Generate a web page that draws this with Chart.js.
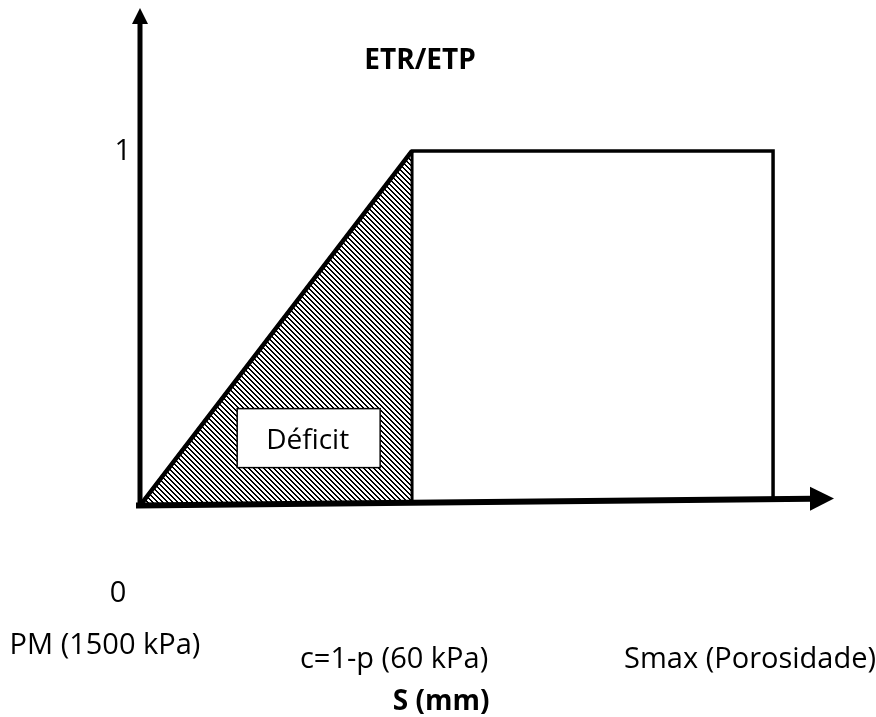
<!DOCTYPE html>
<html>
<head>
<meta charset="utf-8">
<script src="https://cdn.jsdelivr.net/npm/chart.js@4.4.1/dist/chart.umd.min.js"></script>
<style>
  html, body { margin: 0; padding: 0; background: #fff; }
  #wrap { width: 876px; height: 717px; }
</style>
</head>
<body>
<div id="wrap"><canvas id="myChart"></canvas></div>
<script>
// storage S, in units of the critical point c
const sPoints = [0, 1, 2.327];
const sLabels = ['PM (1500 kPa)', 'c=1-p (60 kPa)', 'Smax (Porosidade)'];
// ETR/ETP at each storage point
const ratioValues = [0, 1, 1];
const yTickValue = 1;

const xMax = 2.551;
const yMax = 1.403;

const FONT = '"Open Sans", "Noto Sans", sans-serif';

// crisp "\" hatch, one tile of 5x5 pixels
const makeHatch = () => {
    const n = 5;
    const c = document.createElement('canvas');
    c.width = n;
    c.height = n;
    const g = c.getContext('2d');
    g.fillStyle = '#000';
    for (let i = 0; i < n; i++) {
        g.fillRect(i, i, 1, 1);
        g.fillRect((i + 1) % n, i, 1, 1);
    }
    return c;
};

const ctx = document.getElementById('myChart').getContext('2d');
const hatch = ctx.createPattern(makeHatch(), 'repeat');

const curve = sPoints.map((s, i) => ({ x: s, y: ratioValues[i] }));
curve.push({ x: sPoints[2], y: 0 });
const deficit = curve.slice(0, 2);
const cLine = [{ x: sPoints[1], y: ratioValues[1] }, { x: sPoints[1], y: 0 }];

// x axis rises a little towards the arrow
const TILT = 7;

const overlay = {
    id: 'overlay',
    beforeDatasetsDraw(chart) {
        const { ctx, chartArea: a, scales: { y } } = chart;
        const y0 = y.getPixelForValue(0);
        ctx.save();
        ctx.beginPath();
        ctx.moveTo(a.left - 10, 0);
        ctx.lineTo(a.right + 10, 0);
        ctx.lineTo(a.right + 10, y0 - TILT);
        ctx.lineTo(a.left - 10, y0 + TILT * 10 / (a.right - a.left));
        ctx.closePath();
        ctx.clip();
    },
    afterDatasetsDraw(chart) {
        const { ctx, chartArea: a, scales: { x, y } } = chart;
        ctx.restore();
        const x0 = x.getPixelForValue(0);
        const y0 = y.getPixelForValue(0);
        const baseAt = (px) => y0 - TILT * (px - a.left) / (a.right - a.left);

        ctx.save();
        ctx.fillStyle = '#000';
        ctx.strokeStyle = '#000';

        // y axis with arrow
        ctx.lineWidth = 5;
        ctx.beginPath();
        ctx.moveTo(x0, y0 + 2);
        ctx.lineTo(x0, a.top + 14);
        ctx.stroke();
        ctx.beginPath();
        ctx.moveTo(x0, a.top);
        ctx.lineTo(x0 - 8, a.top + 16);
        ctx.lineTo(x0 + 8, a.top + 16);
        ctx.closePath();
        ctx.fill();

        // x axis with arrow
        const tipX = a.right;
        const baseX = tipX - 24;
        ctx.lineWidth = 6;
        ctx.beginPath();
        ctx.moveTo(x0 - 4, baseAt(x0 - 4));
        ctx.lineTo(baseX + 2, baseAt(baseX + 2));
        ctx.stroke();
        ctx.beginPath();
        ctx.moveTo(tipX, baseAt(tipX));
        ctx.lineTo(baseX, baseAt(baseX) - 12);
        ctx.lineTo(baseX, baseAt(baseX) + 12);
        ctx.closePath();
        ctx.fill();

        // Déficit label box
        const bx = x.getPixelForValue(0.62);
        const by = y.getPixelForValue(0.19);
        ctx.fillStyle = '#fff';
        ctx.fillRect(bx - 71.5, by - 29.5, 143, 59);
        ctx.lineWidth = 1.5;
        ctx.strokeRect(bx - 71.5, by - 29.5, 143, 59);
        ctx.fillStyle = '#000';
        ctx.textAlign = 'center';
        ctx.textBaseline = 'alphabetic';
        ctx.font = '28px ' + FONT;
        ctx.fillText('Déficit', bx - 1, by + 11);

        // tick values
        ctx.font = '29px ' + FONT;
        ctx.textAlign = 'right';
        ctx.fillText(String(yTickValue), x0 - 9, y.getPixelForValue(yTickValue) + 9);
        ctx.textAlign = 'center';
        ctx.fillText('0', x0 - 22, y0 + 96);

        // storage points along S
        const dx = [-35, -18, -23];
        const dy = [148, 162, 162];
        sLabels.forEach((t, i) => {
            ctx.fillText(t, x.getPixelForValue(sPoints[i]) + dx[i], y0 + dy[i]);
        });

        // axis titles
        ctx.font = 'bold 28px ' + FONT;
        ctx.fillText('ETR/ETP', x.getPixelForValue(1) + 8, a.top + 61);
        ctx.fillText('S (mm)', x.getPixelForValue(1) + 29, y0 + 204);
        ctx.restore();
    }
};

const config = {
    type: 'scatter',
    data: {
        datasets: [{
            label: 'Déficit',
            data: deficit,
            showLine: true,
            fill: 'origin',
            backgroundColor: hatch,
            borderWidth: 0,
            pointRadius: 0,
            clip: false
        }, {
            label: 'ETR/ETP',
            data: curve,
            showLine: true,
            fill: false,
            borderColor: '#000',
            borderWidth: 3.5,
            borderJoinStyle: 'miter',
            pointRadius: 0,
            clip: false
        }, {
            // rising limb drawn a bit heavier
            label: 'ETR/ETP rise',
            data: deficit,
            showLine: true,
            fill: false,
            borderColor: '#000',
            borderWidth: 4.5,
            pointRadius: 0,
            clip: false
        }, {
            label: 'c',
            data: cLine,
            showLine: true,
            fill: false,
            borderColor: '#000',
            borderWidth: 3,
            pointRadius: 0,
            clip: false
        }]
    },
    options: {
        responsive: true,
        maintainAspectRatio: false,
        animation: false,
        layout: {
            padding: { left: 140, right: 42, top: 8, bottom: 211.5 }
        },
        scales: {
            x: { type: 'linear', min: 0, max: xMax, display: false },
            y: { type: 'linear', min: 0, max: yMax, display: false }
        },
        plugins: {
            legend: { display: false },
            tooltip: { enabled: false }
        }
    },
    plugins: [overlay]
};

let myChart = new Chart(ctx, config);
</script>
</body>
</html>
